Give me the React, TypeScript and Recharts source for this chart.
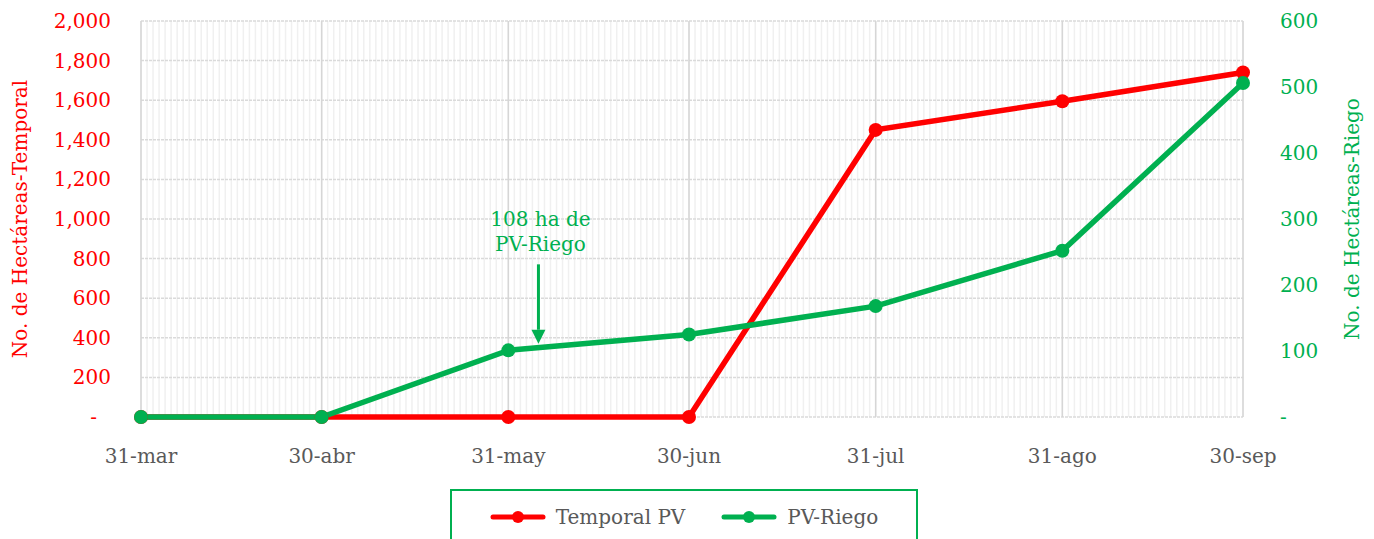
import React from "react";
import {
  LineChart,
  Line,
  XAxis,
  YAxis,
  CartesianGrid,
  Legend,
  ReferenceLine,
} from "recharts";

// fechas de corte (días desde 31-mar) y sus etiquetas
const dateLabels = ["31-mar", "30-abr", "31-may", "30-jun", "31-jul", "31-ago", "30-sep"];
const dayOffsets = [0, 30, 61, 91, 122, 153, 183];

// hectáreas acumuladas
const temporalPV = [0, 0, 0, 0, 1450, 1595, 1740];
const pvRiego = [0, 0, 101, 125, 168, 252, 506];

const leftTicks = [0, 200, 400, 600, 800, 1000, 1200, 1400, 1600, 1800, 2000];
const rightTicks = [0, 100, 200, 300, 400, 500, 600];
const legendOrder = ["Temporal PV", "PV-Riego"];

const RED = "#ff0000";
const GREEN = "#00b050";
const FONT = "'DejaVu Serif', serif";

const chartData = dayOffsets.map((day, i) => ({
  day,
  temporal: temporalPV[i],
  riego: pvRiego[i],
}));

// una línea de rejilla por día
const allDays = Array.from({ length: dayOffsets[dayOffsets.length - 1] + 1 }, (_, i) => i);

const labelFor = (d: number) => dateLabels[dayOffsets.indexOf(d)] ?? "";

const LeftTick = (props: any) => {
  const { x, y, payload } = props;
  const v = payload.value as number;
  return (
    <text x={v === 0 ? x - 14 : x} y={y} dy="0.35em" textAnchor="end" fill={RED} fontSize={20} fontFamily={FONT}>
      {v === 0 ? "-" : v.toLocaleString("en-US")}
    </text>
  );
};

const RightTick = (props: any) => {
  const { x, y, payload } = props;
  const v = payload.value as number;
  return (
    <text x={x} y={y} dy="0.35em" textAnchor="start" fill={GREEN} fontSize={20} fontFamily={FONT}>
      {v === 0 ? "-" : v.toLocaleString("en-US")}
    </text>
  );
};

const Arrow = (props: any) => {
  const { x1, y1, y2 } = props;
  const head = 14;
  return (
    <g>
      <text x={x1 + 2} y={y1 - 38} textAnchor="middle" fill={GREEN} fontSize={20} fontFamily={FONT}>
        108 ha de
      </text>
      <text x={x1 + 2} y={y1 - 13} textAnchor="middle" fill={GREEN} fontSize={20} fontFamily={FONT}>
        PV-Riego
      </text>
      <line x1={x1} y1={y1} x2={x1} y2={y2 - head} stroke={GREEN} strokeWidth={3} />
      <polygon points={`${x1 - 7},${y2 - head} ${x1 + 7},${y2 - head} ${x1},${y2}`} fill={GREEN} />
    </g>
  );
};

const LegendBox = (props: any) => {
  const items = [...(props.payload || [])].sort(
    (a: any, b: any) => legendOrder.indexOf(a.value) - legendOrder.indexOf(b.value)
  );
  return (
    <div
      style={{
        boxSizing: "border-box",
        width: 468,
        height: 70,
        border: `2px solid ${GREEN}`,
        display: "flex",
        justifyContent: "center",
        paddingTop: 12,
        gap: 36,
        fontFamily: FONT,
        fontSize: 20,
        color: "#595959",
      }}
    >
      {items.map((it: any) => (
        <div key={it.value} style={{ display: "flex", alignItems: "center", height: 28 }}>
          <svg width={56} height={14} style={{ marginRight: 10 }}>
            <line x1={3} y1={7} x2={53} y2={7} stroke={it.color} strokeWidth={5} strokeLinecap="round" />
            <circle cx={28} cy={7} r={6} fill={it.color} />
          </svg>
          <span>{it.value}</span>
        </div>
      ))}
    </div>
  );
};

export default function App() {
  return (
    <div style={{ position: "absolute", left: 0, top: 0, background: "#fff" }}>
      <LineChart width={1374} height={539} data={chartData} margin={{ top: 21, right: 0, left: 0, bottom: 0 }}>
        <XAxis xAxisId="days" dataKey="day" type="number" domain={[0, 183]} ticks={allDays} interval={0} hide />
        <XAxis
          xAxisId="main"
          dataKey="day"
          type="number"
          domain={[0, 183]}
          ticks={dayOffsets}
          interval={0}
          tickFormatter={labelFor}
          axisLine={false}
          tickLine={false}
          tickSize={0}
          tickMargin={2}
          height={40}
          tick={{ fill: "#595959", fontSize: 20, fontFamily: FONT }}
        />
        <YAxis
          yAxisId="left"
          domain={[0, 2000]}
          ticks={leftTicks}
          interval={0}
          width={141}
          axisLine={false}
          tickLine={false}
          tickSize={0}
          tickMargin={30}
          tick={<LeftTick />}
          label={{
            content: () => (
              <text
                x={20}
                y={219}
                transform="rotate(-90 20 219)"
                textAnchor="middle"
                dominantBaseline="central"
                fill={RED}
                fontSize={20}
                fontFamily={FONT}
              >
                No. de Hectáreas-Temporal
              </text>
            ),
          }}
        />
        <YAxis
          yAxisId="right"
          orientation="right"
          domain={[0, 600]}
          ticks={rightTicks}
          interval={0}
          width={131}
          axisLine={false}
          tickLine={false}
          tickSize={0}
          tickMargin={37}
          tick={<RightTick />}
          label={{
            content: () => (
              <text
                x={1352}
                y={219}
                transform="rotate(-90 1352 219)"
                textAnchor="middle"
                dominantBaseline="central"
                fill={GREEN}
                fontSize={20}
                fontFamily={FONT}
              >
                No. de Hectáreas-Riego
              </text>
            ),
          }}
        />
        <CartesianGrid xAxisId="days" yAxisId="left" horizontal={false} stroke="#f0f0f0" strokeWidth={1.5} />
        <CartesianGrid xAxisId="main" yAxisId="left" vertical={false} stroke="#dadada" strokeWidth={1.5} strokeDasharray="3 1" />
        <CartesianGrid xAxisId="main" yAxisId="left" horizontal={false} stroke="#d6d6d6" strokeWidth={1.5} />
        <ReferenceLine
          xAxisId="main"
          yAxisId="left"
          segment={[
            { x: 66, y: 771 },
            { x: 66, y: 370 },
          ]}
          shape={<Arrow />}
        />
        <Legend
          verticalAlign="bottom"
          content={<LegendBox />}
          wrapperStyle={{ left: 450, top: 489, width: 468, height: 82 }}
        />
        <Line
          xAxisId="main"
          yAxisId="left"
          dataKey="temporal"
          name="Temporal PV"
          stroke={RED}
          strokeWidth={5.5}
          dot={{ r: 7, fill: RED, stroke: RED, strokeWidth: 0 }}
          activeDot={false}
          isAnimationActive={false}
        />
        <Line
          xAxisId="main"
          yAxisId="right"
          dataKey="riego"
          name="PV-Riego"
          stroke={GREEN}
          strokeWidth={5.5}
          dot={{ r: 7, fill: GREEN, stroke: GREEN, strokeWidth: 0 }}
          activeDot={false}
          isAnimationActive={false}
        />
      </LineChart>
    </div>
  );
}
